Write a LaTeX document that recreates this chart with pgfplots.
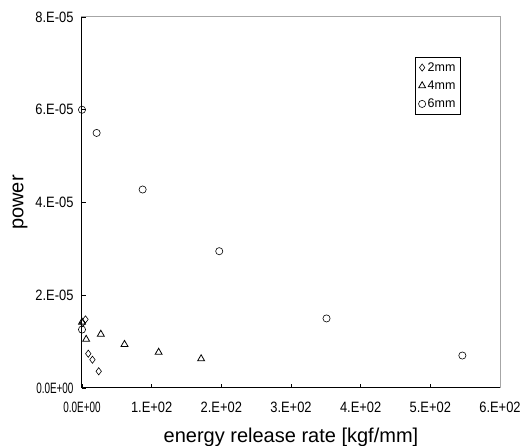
\documentclass[border=0pt]{standalone}
\usepackage{fontspec}
\setmainfont{Liberation Sans}
\usepackage{pgfplots}
\pgfplotsset{compat=1.18}
\newcommand\tf[1]{\scalebox{0.86}[1]{\fontsize{15}{15}\selectfont #1}}
\newcommand\tfz[1]{\scalebox{0.66}[1]{\fontsize{15}{15}\selectfont #1}}
\begin{document}
\begin{tikzpicture}
\begin{axis}[
  width=418pt, height=371pt, scale only axis,
  xmin=0, xmax=600, ymin=0, ymax=8e-5,
  clip=false,
  xtick={0,100,200,300,400,500,600},
  xticklabels={\tfz{0.0E+00},\tf{1.E+02},\tf{2.E+02},\tf{3.E+02},\tf{4.E+02},\tf{5.E+02},\tf{6.E+02}},
  ytick={0,2e-5,4e-5,6e-5,8e-5},
  yticklabels={\tfz{0.0E+00},\tf{2.E-05},\tf{4.E-05},\tf{6.E-05},\tf{8.E-05}},
  scaled y ticks=false, scaled x ticks=false,
  tick align=inside, major tick length=4pt,
  xtick pos=bottom, ytick pos=left,
  tick style={black, line width=0.6pt},
  xticklabel style={yshift=-10pt, text=black},
  yticklabel style={xshift=-5pt, text=black},
  axis line style={gray!70, line width=1pt},
  xlabel={energy release rate [kgf/mm]},
  ylabel={power},
  label style={font=\fontsize{20}{20}\selectfont},
  xlabel style={at={(axis description cs:0.5,-0.133)}, anchor=center},
  ylabel style={at={(axis description cs:-0.148,0.5)}, anchor=center},
  legend style={at={(0.797,0.892)}, anchor=north west, draw=black, line width=0.8pt,
    font=\fontsize{12.5}{13}\selectfont, inner xsep=3pt, inner ysep=3pt,
    row sep=4pt, cells={anchor=west}},
  legend image code/.code={\draw[#1, line width=0.6pt] plot coordinates {(0.12cm,0cm)};},
]
\addplot[only marks, mark=diamond, mark size=3.6pt, mark options={black, line width=0.6pt, fill=white}]
  coordinates {(1,1.40e-5) (5,1.48e-5) (9,0.74e-5) (15,0.61e-5) (24,0.36e-5)};
\addlegendentry{2mm}
\addplot[only marks, mark=triangle, mark size=4pt, mark options={black, line width=0.8pt, fill=white}]
  coordinates {(0,1.42e-5) (6,1.05e-5) (27,1.16e-5) (61,0.94e-5) (110,0.77e-5) (171,0.63e-5)};
\addlegendentry{4mm}
\addplot[only marks, mark=o, mark size=3.6pt, mark options={black, line width=0.6pt}]
  coordinates {(0,6.0e-5) (21,5.5e-5) (87,4.28e-5) (197,2.95e-5) (351,1.50e-5) (546,0.70e-5) (0,1.26e-5)};
\addlegendentry{6mm}
\draw[black, line width=1pt] (rel axis cs:0,1) -- (rel axis cs:0,0) -- (rel axis cs:1,0);
\end{axis}
\pgfresetboundingbox
\path[use as bounding box] ([xshift=-82pt,yshift=-58pt]current axis.south west) rectangle ([xshift=29pt,yshift=17pt]current axis.north east);
\end{tikzpicture}
\end{document}
